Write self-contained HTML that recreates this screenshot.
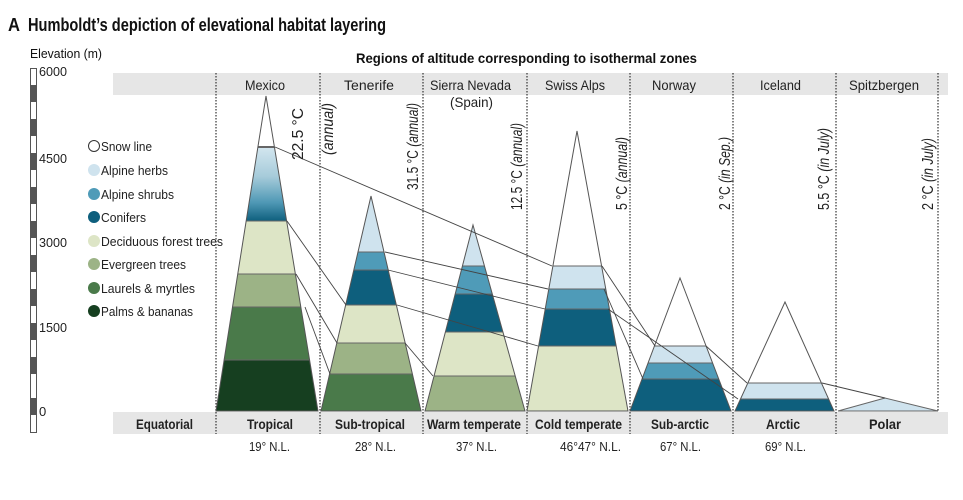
<!DOCTYPE html>
<html><head><meta charset="utf-8"><style>
html,body{margin:0;padding:0;background:#fff;}
svg{display:block;font-family:"Liberation Sans Narrow","Liberation Sans",sans-serif;}
</style></head><body>
<svg width="963" height="500" viewBox="0 0 963 500" xmlns="http://www.w3.org/2000/svg">
<defs>
<linearGradient id="mg" x1="0" y1="0" x2="0" y2="1">
<stop offset="0" stop-color="#d3e6ef"/><stop offset="0.4" stop-color="#a6cbda"/><stop offset="0.75" stop-color="#4f98b5"/><stop offset="1" stop-color="#0e5f7d"/>
</linearGradient>
<clipPath id="c1"><polygon points="266,96 216,411 318,411"/></clipPath>
<clipPath id="c2"><polygon points="371,196 321,411 421,411"/></clipPath>
<clipPath id="c3"><polygon points="473,225 425,411 525,411"/></clipPath>
<clipPath id="c4"><polygon points="577,131 527,411 628,411"/></clipPath>
<clipPath id="c5"><polygon points="680,278 630,411 731,411"/></clipPath>
<clipPath id="c6"><polygon points="785,302 735,411 834,411"/></clipPath>
</defs>
<text x="8" y="31" font-size="18" font-weight="bold" fill="#111" textLength="12" lengthAdjust="spacingAndGlyphs">A</text>
<text x="28" y="31" font-size="18" font-weight="bold" fill="#111" textLength="358" lengthAdjust="spacingAndGlyphs">Humboldt’s depiction of elevational habitat layering</text>
<text x="30" y="58" font-size="13" fill="#111" textLength="72" lengthAdjust="spacingAndGlyphs">Elevation (m)</text>
<text x="356" y="63" font-size="14" font-weight="bold" fill="#111" textLength="341" lengthAdjust="spacingAndGlyphs">Regions  of altitude corresponding to isothermal zones</text>
<!-- scale bar -->
<rect x="30.5" y="68.5" width="6" height="364" fill="#fff" stroke="#555"/>
<g fill="#555">
<rect x="30" y="85" width="7" height="17"/><rect x="30" y="119" width="7" height="17"/><rect x="30" y="153" width="7" height="17"/><rect x="30" y="187" width="7" height="17"/><rect x="30" y="221" width="7" height="17"/><rect x="30" y="255" width="7" height="17"/><rect x="30" y="289" width="7" height="17"/><rect x="30" y="323" width="7" height="17"/><rect x="30" y="357" width="7" height="17"/><rect x="30" y="398" width="7" height="17"/>
</g>
<g font-size="13" fill="#222">
<text x="39" y="76" textLength="28" lengthAdjust="spacingAndGlyphs">6000</text><text x="39" y="163" textLength="28" lengthAdjust="spacingAndGlyphs">4500</text><text x="39" y="247" textLength="28" lengthAdjust="spacingAndGlyphs">3000</text><text x="39" y="332" textLength="28" lengthAdjust="spacingAndGlyphs">1500</text><text x="39" y="416">0</text>
</g>
<!-- bands -->
<rect x="113" y="73" width="835" height="22" fill="#e6e6e6"/>
<rect x="113" y="412" width="835" height="22" fill="#e6e6e6"/>
<g stroke="#333" stroke-width="1.2" stroke-dasharray="1.5,1.5">
<line x1="216" y1="73" x2="216" y2="434"/><line x1="320" y1="73" x2="320" y2="434"/><line x1="423" y1="73" x2="423" y2="434"/><line x1="527" y1="73" x2="527" y2="434"/><line x1="630" y1="73" x2="630" y2="434"/><line x1="733" y1="73" x2="733" y2="434"/><line x1="836" y1="73" x2="836" y2="434"/><line x1="938" y1="73" x2="938" y2="412"/>
</g>
<g font-size="14" fill="#222">
<text x="245" y="90" textLength="40" lengthAdjust="spacingAndGlyphs">Mexico</text>
<text x="344" y="90" textLength="50" lengthAdjust="spacingAndGlyphs">Tenerife</text>
<text x="430" y="90" textLength="81" lengthAdjust="spacingAndGlyphs">Sierra Nevada</text>
<text x="450" y="107" textLength="43" lengthAdjust="spacingAndGlyphs">(Spain)</text>
<text x="545" y="90" textLength="60" lengthAdjust="spacingAndGlyphs">Swiss Alps</text>
<text x="652" y="90" textLength="44" lengthAdjust="spacingAndGlyphs">Norway</text>
<text x="760" y="90" textLength="41" lengthAdjust="spacingAndGlyphs">Iceland</text>
<text x="849" y="90" textLength="70" lengthAdjust="spacingAndGlyphs">Spitzbergen</text>
</g>
<g font-size="14" font-weight="bold" fill="#222">
<text x="136" y="429" textLength="57" lengthAdjust="spacingAndGlyphs">Equatorial</text>
<text x="247" y="429" textLength="46" lengthAdjust="spacingAndGlyphs">Tropical</text>
<text x="335" y="429" textLength="70" lengthAdjust="spacingAndGlyphs">Sub-tropical</text>
<text x="427" y="429" textLength="94" lengthAdjust="spacingAndGlyphs">Warm temperate</text>
<text x="535" y="429" textLength="87" lengthAdjust="spacingAndGlyphs">Cold temperate</text>
<text x="651" y="429" textLength="58" lengthAdjust="spacingAndGlyphs">Sub-arctic</text>
<text x="766" y="429" textLength="34" lengthAdjust="spacingAndGlyphs">Arctic</text>
<text x="869" y="429" textLength="32" lengthAdjust="spacingAndGlyphs">Polar</text>
</g>
<g font-size="13" fill="#222">
<text x="249" y="451" textLength="41" lengthAdjust="spacingAndGlyphs">19° N.L.</text>
<text x="355" y="451" textLength="41" lengthAdjust="spacingAndGlyphs">28° N.L.</text>
<text x="456" y="451" textLength="41" lengthAdjust="spacingAndGlyphs">37° N.L.</text>
<text x="560" y="451" textLength="61" lengthAdjust="spacingAndGlyphs">46°47° N.L.</text>
<text x="660" y="451" textLength="41" lengthAdjust="spacingAndGlyphs">67° N.L.</text>
<text x="765" y="451" textLength="41" lengthAdjust="spacingAndGlyphs">69° N.L.</text>
</g>
<!-- legend -->
<g font-size="13" fill="#222">
<circle cx="94" cy="146" r="5.5" fill="#fff" stroke="#333"/><text x="101" y="151" textLength="51" lengthAdjust="spacingAndGlyphs">Snow line</text>
<circle cx="94" cy="170" r="6" fill="#cfe3ee"/><text x="101" y="175" textLength="67" lengthAdjust="spacingAndGlyphs">Alpine herbs</text>
<circle cx="94" cy="194" r="6" fill="#4f9bb8"/><text x="101" y="199" textLength="73" lengthAdjust="spacingAndGlyphs">Alpine shrubs</text>
<circle cx="94" cy="217" r="6" fill="#0e5f7d"/><text x="101" y="222" textLength="45" lengthAdjust="spacingAndGlyphs">Conifers</text>
<circle cx="94" cy="241" r="6" fill="#dde5c6"/><text x="101" y="246" textLength="122" lengthAdjust="spacingAndGlyphs">Deciduous forest trees</text>
<circle cx="94" cy="264" r="6" fill="#9cb386"/><text x="101" y="269" textLength="85" lengthAdjust="spacingAndGlyphs">Evergreen trees</text>
<circle cx="94" cy="288" r="6" fill="#4a7a4a"/><text x="101" y="293" textLength="94" lengthAdjust="spacingAndGlyphs">Laurels &amp; myrtles</text>
<circle cx="94" cy="311" r="6" fill="#163f20"/><text x="101" y="316" textLength="92" lengthAdjust="spacingAndGlyphs">Palms &amp; bananas</text>
</g>
<!-- Mexico -->
<g clip-path="url(#c1)" stroke="#666" stroke-width="1">
<rect x="210" y="147" width="120" height="74" fill="url(#mg)" stroke="none"/>
<rect x="210" y="221" width="120" height="53" fill="#dde5c6"/>
<rect x="210" y="274" width="120" height="33" fill="#9cb386"/>
<rect x="210" y="307" width="120" height="53" fill="#4a7a4a"/>
<rect x="210" y="360" width="120" height="51" fill="#163f20"/>
<line x1="210" y1="147" x2="330" y2="147" stroke-width="2"/>
</g>
<polygon points="266,96 216,411 318,411" fill="none" stroke="#555"/>
<!-- Tenerife -->
<g clip-path="url(#c2)" stroke="#666">
<rect x="315" y="196" width="110" height="56" fill="#cfe3ee"/>
<rect x="315" y="252" width="110" height="18" fill="#4f9bb8"/>
<rect x="315" y="270" width="110" height="35" fill="#0e5f7d"/>
<rect x="315" y="305" width="110" height="38" fill="#dde5c6"/>
<rect x="315" y="343" width="110" height="31" fill="#9cb386"/>
<rect x="315" y="374" width="110" height="37" fill="#4a7a4a"/>
</g>
<polygon points="371,196 321,411 421,411" fill="none" stroke="#555"/>
<!-- Sierra -->
<g clip-path="url(#c3)" stroke="#666">
<rect x="420" y="225" width="110" height="41" fill="#cfe3ee"/>
<rect x="420" y="266" width="110" height="28" fill="#4f9bb8"/>
<rect x="420" y="294" width="110" height="38" fill="#0e5f7d"/>
<rect x="420" y="332" width="110" height="44" fill="#dde5c6"/>
<rect x="420" y="376" width="110" height="35" fill="#9cb386"/>
</g>
<polygon points="473,225 425,411 525,411" fill="none" stroke="#555"/>
<!-- Swiss -->
<g clip-path="url(#c4)" stroke="#666">
<rect x="520" y="266" width="115" height="23" fill="#cfe3ee"/>
<rect x="520" y="289" width="115" height="20" fill="#4f9bb8"/>
<rect x="520" y="309" width="115" height="37" fill="#0e5f7d"/>
<rect x="520" y="346" width="115" height="65" fill="#dde5c6"/>
</g>
<polygon points="577,131 527,411 628,411" fill="none" stroke="#555"/>
<!-- Norway -->
<g clip-path="url(#c5)" stroke="#666">
<rect x="625" y="346" width="112" height="17" fill="#cfe3ee"/>
<rect x="625" y="363" width="112" height="16" fill="#4f9bb8"/>
<rect x="625" y="379" width="112" height="32" fill="#0e5f7d"/>
</g>
<polygon points="680,278 630,411 731,411" fill="none" stroke="#555"/>
<!-- Iceland -->
<g clip-path="url(#c6)" stroke="#666">
<rect x="730" y="383" width="110" height="16" fill="#cfe3ee"/>
<rect x="730" y="399" width="110" height="12" fill="#0e5f7d"/>
</g>
<polygon points="785,302 735,411 834,411" fill="none" stroke="#555"/>
<!-- Spitzbergen -->
<polygon points="885,398 838,411 938,411" fill="#cfe3ee" stroke="#666"/>
<!-- connecting lines -->
<g stroke="#444" stroke-width="0.9">
<line x1="275" y1="147" x2="552" y2="266"/>
<line x1="287" y1="221" x2="346" y2="305"/>
<line x1="296" y1="274" x2="337" y2="343"/>
<line x1="305" y1="307" x2="330" y2="374"/>
<line x1="385" y1="252" x2="548" y2="289"/>
<line x1="388" y1="270" x2="545" y2="309"/>
<line x1="397" y1="305" x2="538" y2="346"/>
<line x1="405" y1="343" x2="433" y2="376"/>
<line x1="602" y1="266" x2="655" y2="346"/>
<line x1="604" y1="289" x2="643" y2="379"/>
<line x1="608" y1="309" x2="738" y2="399"/>
<line x1="706" y1="346" x2="747" y2="383"/>
<line x1="822" y1="383" x2="885" y2="398"/>
</g>
<!-- rotated temperature labels -->
<g font-size="16" fill="#222">
<text transform="translate(303,160) rotate(-90)" textLength="52" lengthAdjust="spacingAndGlyphs">22.5 °C</text>
<text transform="translate(333,155) rotate(-90)" font-style="italic" textLength="52" lengthAdjust="spacingAndGlyphs">(annual)</text>
<text transform="translate(418,190) rotate(-90)" textLength="87" lengthAdjust="spacingAndGlyphs">31.5 °C <tspan font-style="italic">(annual)</tspan></text>
<text transform="translate(522,210) rotate(-90)" textLength="87" lengthAdjust="spacingAndGlyphs">12.5 °C <tspan font-style="italic">(annual)</tspan></text>
<text transform="translate(627,210) rotate(-90)" textLength="73" lengthAdjust="spacingAndGlyphs">5 °C <tspan font-style="italic">(annual)</tspan></text>
<text transform="translate(730,210) rotate(-90)" textLength="73" lengthAdjust="spacingAndGlyphs">2 °C <tspan font-style="italic">(in Sep.)</tspan></text>
<text transform="translate(829,210) rotate(-90)" textLength="82" lengthAdjust="spacingAndGlyphs">5.5 °C <tspan font-style="italic">(in July)</tspan></text>
<text transform="translate(933,210) rotate(-90)" textLength="72" lengthAdjust="spacingAndGlyphs">2 °C <tspan font-style="italic">(in July)</tspan></text>
</g>
</svg>
</body></html>
